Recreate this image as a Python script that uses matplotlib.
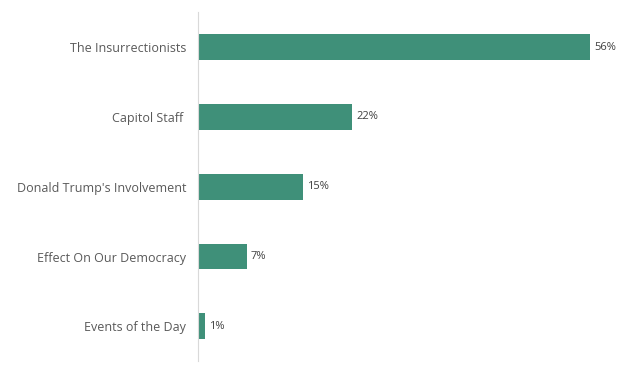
import matplotlib
matplotlib.use("Agg")
import matplotlib.pyplot as plt

categories = ["The Insurrectionists", "Capitol Staff ", "Donald Trump's Involvement",
              "Effect On Our Democracy", "Events of the Day"]
values = [56, 22, 15, 7, 1]
labels = ["56%", "22%", "15%", "7%", "1%"]

plt.rcParams['font.family'] = ['Open Sans', 'DejaVu Sans']

fig = plt.figure(figsize=(6.27, 3.72), dpi=100)
ax = fig.add_axes([0.316, 0.029, 0.67, 0.938])

y = list(range(len(categories)))[::-1]
ax.barh(y, values, height=0.37, color="#3f9079")
for yi, v, lab in zip(y, values, labels):
    ax.text(v + 0.55, yi, lab, va="center", ha="left", fontsize=8, color="#404040")

ax.set_ylim(-0.5, len(categories) - 0.5)
ax.set_xlim(0, 60)
ax.set_yticks(y)
ax.set_yticklabels(categories, fontsize=9, color="#595959")
ax.tick_params(axis="y", length=0, pad=8.5)
ax.set_xticks([])
for s in ["top", "right", "bottom"]:
    ax.spines[s].set_visible(False)
ax.spines["left"].set_color("#d9d9d9")

fig.savefig("out.png", dpi=100)
